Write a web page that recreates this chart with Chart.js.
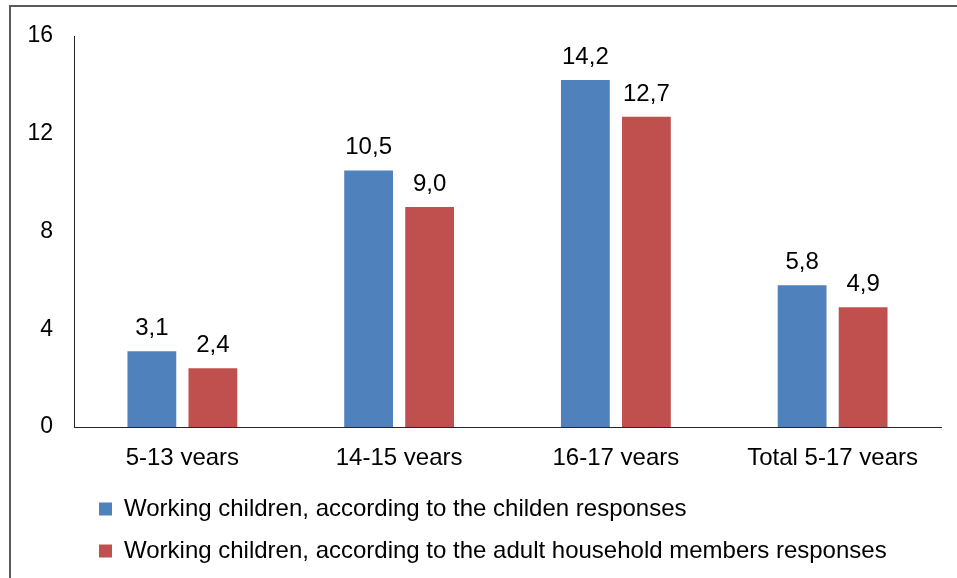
<!DOCTYPE html>
<html>
<head>
<meta charset="utf-8">
<script src="https://cdn.jsdelivr.net/npm/chart.js@4.4.0/dist/chart.umd.min.js"></script>
<style>
    html, body { margin: 0; padding: 0; background: #fff; overflow: hidden; }
    #wrap { position: relative; width: 957px; height: 578px; }
    #frame {
        position: absolute; left: 9px; top: 5px; width: 960px; height: 590px;
        border-left: 2px solid #5a5a5a; border-top: 2px solid #5a5a5a;
    }
    #chart { position: absolute; left: 0; top: 0; }
</style>
</head>
<body>
<div id="wrap">
    <div id="frame"></div>
    <canvas id="chart" width="957" height="578"></canvas>
</div>
<script>
const categories = ['5-13 years', '14-15 years', '16-17 years', 'Total 5-17 years'];
const childResponses = [3.1, 10.5, 14.2, 5.8];
const adultResponses = [2.4, 9.0, 12.7, 4.9];
const yTicks = [0, 4, 8, 12, 16];

const seriesNames = [
    'Working children, according to the childen responses',
    'Working children, according to the adult household members responses'
];

const FONT = 'Liberation Sans, Arial, sans-serif';
Chart.defaults.color = '#000';
Chart.defaults.font.family = FONT;

// value labels above bars, decimal comma
const valueLabels = {
    id: 'valueLabels',
    afterDatasetsDraw(chart) {
        const ctx = chart.ctx;
        ctx.save();
        ctx.font = '24px ' + FONT;
        ctx.fillStyle = '#000';
        ctx.textAlign = 'center';
        ctx.textBaseline = 'alphabetic';
        chart.data.datasets.forEach((ds, i) => {
            chart.getDatasetMeta(i).data.forEach((bar, j) => {
                const txt = ds.data[j].toFixed(1).replace('.', ',');
                ctx.fillText(txt, bar.x, bar.y - 16);
            });
        });
        ctx.restore();
    }
};

// move legend to where the reference has it
const legendPlace = {
    id: 'legendPlace',
    afterLayout(chart) {
        const lg = chart.legend;
        const h = lg.height;
        lg.left = 81;
        lg.top = 479;
        lg.bottom = lg.top + h;
    }
};

new Chart(document.getElementById('chart'), {
    type: 'bar',
    data: {
        labels: categories,
        datasets: [
            { label: seriesNames[0], data: childResponses, backgroundColor: '#4F81BD', borderWidth: 0 },
            { label: seriesNames[1], data: adultResponses, backgroundColor: '#C0504D', borderWidth: 0 }
        ]
    },
    options: {
        responsive: false,
        animation: false,
        devicePixelRatio: 1,
        layout: { padding: { top: 36, right: 16, bottom: 19, left: 0 } },
        categoryPercentage: 0.563,
        barPercentage: 0.8,
        plugins: {
            tooltip: { enabled: false },
            legend: {
                position: 'bottom',
                align: 'start',
                labels: {
                    font: { size: 24, family: FONT },
                    color: '#000',
                    boxWidth: 13,
                    boxHeight: 13,
                    padding: 18
                }
            }
        },
        scales: {
            x: {
                grid: { display: false, drawTicks: false },
                border: { display: true, color: '#262626', width: 1 },
                ticks: { font: { size: 24 }, padding: 17, color: '#000', maxRotation: 0 },
                afterFit(s) { s.height = 38; }
            },
            y: {
                min: 0,
                max: 16,
                grid: { display: false, drawTicks: false },
                border: { display: true, color: '#262626', width: 1 },
                afterBuildTicks(s) { s.ticks = yTicks.map(v => ({ value: v })); },
                ticks: { font: { size: 23 }, padding: 21, color: '#000' },
                afterFit(s) { s.width = 74; }
            }
        }
    },
    plugins: [valueLabels, legendPlace]
});
</script>
</body>
</html>
